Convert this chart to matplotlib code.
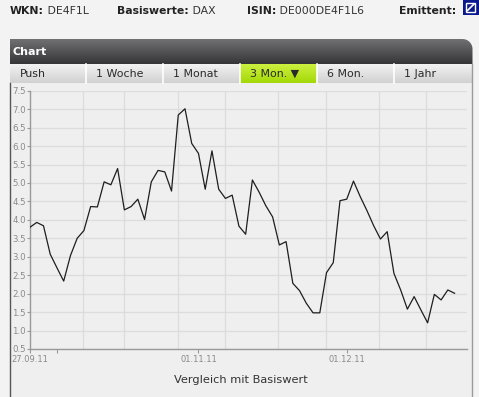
import numpy as np
import matplotlib
matplotlib.use("Agg")
import matplotlib.pyplot as plt
from matplotlib.path import Path
from matplotlib.patches import PathPatch, Rectangle

# trading day index since 27.09.11 and the price of the certificate
day = list(range(64))
price = [3.80, 3.93, 3.84, 3.07, 2.70, 2.34, 3.03, 3.50, 3.71, 4.36,
         4.35, 5.03, 4.95, 5.39, 4.27, 4.36, 4.56, 4.01, 5.03, 5.34,
         5.30, 4.78, 6.84, 7.01, 6.07, 5.80, 4.83, 5.87, 4.83, 4.58,
         4.67, 3.83, 3.61, 5.08, 4.75, 4.38, 4.08, 3.32, 3.41, 2.28,
         2.08, 1.74, 1.48, 1.48, 2.57, 2.84, 4.52, 4.56, 5.05, 4.63,
         4.25, 3.84, 3.48, 3.68, 2.55, 2.10, 1.58, 1.92, 1.56, 1.21,
         1.98, 1.83, 2.10, 2.01]

date_ticks = [0, 4, 25, 47]
date_labels = ["27.09.11", "", "01.11.11", "01.12.11"]
y_ticks = [0.5, 1.0, 1.5, 2.0, 2.5, 3.0, 3.5, 4.0, 4.5, 5.0, 5.5, 6.0, 6.5, 7.0, 7.5]
grid_x = [7.9, 14.0, 21.9, 29.0, 36.8, 43.9, 51.8, 58.8]

tabs = ["Push", "1 Woche", "1 Monat", "3 Mon. \u25bc", "6 Mon.", "1 Jahr"]
tab_edges = [10, 86.5, 163.5, 240.5, 317, 394, 472.5]
active_tab = 3

W, H = 479, 397
fig = plt.figure(figsize=(W / 100, H / 100), dpi=100)
fig.patch.set_facecolor("#f3f3f3")

# page furniture drawn in pixel coordinates
bg = fig.add_axes([0, 0, 1, 1])
bg.axis("off")

# panel body
bg.add_patch(Rectangle((10, 64), 462.5, 340, facecolor="#efefef", edgecolor="none"))

# header row
def header(x, bold, normal):
    t = bg.text(x, 10.5, bold, fontsize=7.8, fontweight="bold", color="#222222",
                va="center", ha="left")
    bg.annotate(" " + normal, xycoords=t, xy=(1, 0), va="bottom", ha="left",
                fontsize=7.8, color="#333333")

header(10, "WKN:", "DE4F1L")
header(117, "Basiswerte:", "DAX")
header(247, "ISIN:", "DE000DE4F1L6")
bg.text(399, 10.5, "Emittent:", fontsize=7.8, fontweight="bold", color="#222222",
        va="center", ha="left")

# issuer logo
bg.add_patch(Rectangle((463, 0), 16, 15, facecolor="#0a1a8c", edgecolor="none"))
bg.add_patch(Rectangle((466, 2.5), 9.5, 9.5, facecolor="none", edgecolor="white", lw=1.0))
bg.plot([467.5, 474], [10.5, 4], color="white", lw=1.2)

# dark header bar with rounded top-right corner
r = 10
t = np.linspace(np.pi / 2, 0, 12)
verts = [(10, 64), (10, 39), (472.5 - r, 39)]
verts += [(472.5 - r + r * np.cos(a), 39 + r - r * np.sin(a)) for a in t]
verts += [(472.5, 64), (10, 64)]
clip = PathPatch(Path(verts), facecolor="none", edgecolor="none", transform=bg.transData)
bg.add_patch(clip)
grad = np.linspace(0, 1, 50).reshape(-1, 1)
im = bg.imshow(np.dstack([np.interp(grad, [0, 1], [c0, c1]) for c0, c1 in
                          zip((0.44, 0.44, 0.45), (0.21, 0.21, 0.22))]),
               extent=(10, 472.5, 64, 39), aspect="auto", origin="upper", zorder=1)
im.set_clip_path(clip)
bg.text(13, 52, "Chart", fontsize=8, fontweight="bold", color="white", va="center", zorder=2)

# tabs
for i, name in enumerate(tabs):
    x0, x1 = tab_edges[i], tab_edges[i + 1]
    if i == active_tab:
        top, bot = (0.80, 0.94, 0.25), (0.64, 0.85, 0.03)
    else:
        top, bot = (0.95, 0.95, 0.95), (0.82, 0.82, 0.82)
    g = np.dstack([np.interp(grad, [0, 1], [a, b]) for a, b in zip(top, bot)])
    bg.imshow(g, extent=(x0, x1, 83, 64), aspect="auto", origin="upper", zorder=1)
    bg.text(x0 + 10, 74, name, fontsize=7.9, color="#2a2a2a", va="center", zorder=3)
for x in tab_edges[1:-1]:
    bg.plot([x, x], [64, 83], color="white", lw=1.2, zorder=2)

# panel borders
bg.plot([10, 10], [83, 397], color="#555555", lw=1.0)
bg.plot([472.5, 472.5], [64, 397], color="#9a9a9a", lw=1.0)

bg.text(241, 380, "Vergleich mit Basiswert", fontsize=8.2, color="#333333",
        ha="center", va="center")

bg.set_xlim(0, W)
bg.set_ylim(H, 0)

# the price chart
ax = fig.add_axes([30 / W, (H - 349) / H, 436.7 / W, 258.3 / H])
ax.set_facecolor("#efefef")
ax.set_xlim(0, 64.8)
ax.set_ylim(0.5, 7.5)

for y in y_ticks:
    ax.axhline(y, color="#dcdcdc", lw=0.9, zorder=1)
for x in grid_x:
    ax.axvline(x, color="#dcdcdc", lw=0.9, zorder=1)

ax.plot(day, price, color="#1e1e1e", lw=0.9, zorder=3)

for s in ["top", "right"]:
    ax.spines[s].set_visible(False)
for s in ["left", "bottom"]:
    ax.spines[s].set_color("#999999")
    ax.spines[s].set_linewidth(1.0)

ax.set_yticks(y_ticks)
ax.set_yticklabels(["%.1f" % v for v in y_ticks])
ax.set_xticks(date_ticks)
ax.set_xticklabels(date_labels)
ax.tick_params(axis="y", length=2, width=0.8, color="#999999", labelsize=6.2,
               labelcolor="#8a8a8a", pad=1)
ax.tick_params(axis="x", length=3, width=0.8, color="#999999", labelsize=6.0,
               labelcolor="#8a8a8a", pad=1)

plt.savefig("out.png", dpi=100, facecolor=fig.get_facecolor())
